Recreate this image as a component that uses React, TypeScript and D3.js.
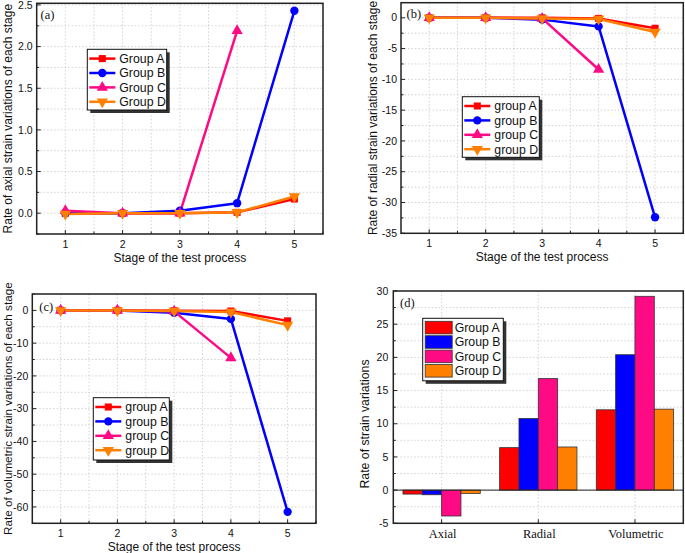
import React from 'react';
import * as d3 from 'd3';

// ---------- DATA ----------
const stages = [1, 2, 3, 4, 5];
const groupNamesUpper = ['Group A', 'Group B', 'Group C', 'Group D'];
const groupNamesLower = ['group A', 'group B', 'group C', 'group D'];
const seriesColors = ['#ff0000', '#0000ff', '#ff0a85', '#ff8000'];

// (a) axial strain variation rate per stage
const axialA = [0.0, 0.0, 0.0, 0.01, 0.17];
const axialB = [0.0, 0.0, 0.03, 0.12, 2.43];
const axialC = [0.03, 0.0, 0.0, 2.19];
const axialD = [-0.01, 0.0, 0.0, 0.01, 0.2];

// (b) radial strain variation rate per stage
const radialA = [0.0, 0.0, 0.0, -0.1, -1.7];
const radialB = [0.0, 0.0, -0.3, -1.4, -32.4];
const radialC = [0.0, 0.0, -0.1, -8.4];
const radialD = [0.0, 0.0, -0.1, -0.2, -2.3];

// (c) volumetric strain variation rate per stage
const volA = [0.0, 0.0, -0.1, -0.2, -3.2];
const volB = [0.0, 0.0, -0.7, -2.6, -61.5];
const volC = [0.0, 0.0, -0.3, -14.5];
const volD = [0.0, 0.0, -0.2, -0.5, -4.5];

// (d) rate of strain variations
const barCategories = ['Axial', 'Radial', 'Volumetric'];
const barA = [-0.6, 6.4, 12.1];
const barB = [-0.7, 10.8, 20.4];
const barC = [-3.9, 16.8, 29.2];
const barD = [-0.5, 6.5, 12.2];

const axialTicks = [0, 0.5, 1.0, 1.5, 2.0, 2.5];
const radialTicks = [0, -5, -10, -15, -20, -25, -30, -35];
const volTicks = [0, -10, -20, -30, -40, -50, -60];
const barTicks = [-5, 0, 5, 10, 15, 20, 25, 30];

// ---------- STYLE ----------
const SANS = '"Liberation Sans", Arial, sans-serif';
const SERIF = '"Liberation Serif", "Times New Roman", serif';
const GRID = '#c8c8c8';
const AXIS = '#222';

const fmt = (v: number, dec: number) => v.toFixed(dec);

const markerPath = (i: number) => {
  if (i === 0) return d3.symbol(d3.symbolSquare, 50)()!;
  if (i === 1) return d3.symbol(d3.symbolCircle, 55)()!;
  return d3.symbol(d3.symbolTriangle, 55)()!;
};

type Frame = { x0: number; x1: number; y0: number; y1: number };

function Legend({ x, y, w, h, names, kind }: { x: number; y: number; w: number; h: number; names: string[]; kind: 'line' | 'bar' }) {
  return (
    <g>
      <rect x={x + 3} y={y + 3} width={w} height={h} fill="#333" />
      <rect x={x} y={y} width={w} height={h} fill="#fff" stroke="#111" strokeWidth={1} />
      {names.map((n, i) => {
        const cy = y + 9.3 + i * 14.4;
        return (
          <g key={n}>
            {kind === 'line' ? (
              <g>
                <line x1={x + 2} x2={x + 28} y1={cy} y2={cy} stroke={seriesColors[i]} strokeWidth={2.5} />
                <path d={markerPath(i)} transform={`translate(${x + 15},${cy}) rotate(${i === 3 ? 180 : 0})`} fill={seriesColors[i]} />
              </g>
            ) : (
              <rect x={x + 2.5} y={cy - 6.3} width={27} height={12.6} fill={seriesColors[i]} stroke="#333" strokeWidth={0.8} />
            )}
            <text x={x + 32} y={cy + 4.3} fontFamily={SANS} fontSize={12.3} fill="#111">{n}</text>
          </g>
        );
      })}
    </g>
  );
}

function LinePanel({ frame, domain, ticks, dec, series, names, yLabel, yLabelSize, label, labelPos, legend, yLabelX }: any) {
  const f: Frame = frame;
  const x = d3.scaleLinear().domain([0.5, 5.5]).range([f.x0, f.x1]);
  const y = d3.scaleLinear().domain(domain).range([f.y1, f.y0]);
  const step = ticks[1] - ticks[0];
  const minor: number[] = [];
  const lo = Math.min(...ticks), hi = Math.max(...ticks);
  const st = Math.abs(step) / 2;
  for (let v = lo - st; v <= hi + st + 1e-9; v += st) {
    if (v >= domain[0] - 1e-9 && v <= domain[1] + 1e-9) minor.push(+v.toFixed(6));
  }
  const xMinor = d3.range(1, 5.51, 0.5);
  const line = d3.line<number>().x((_, i) => x(stages[i])).y((d) => y(d));
  const midY = (f.y0 + f.y1) / 2;
  return (
    <g>
      {xMinor.map((v) => (
        <line key={'gx' + v} x1={x(v)} x2={x(v)} y1={f.y0} y2={f.y1} stroke={GRID} strokeDasharray="1.5,2" strokeWidth={0.8} />
      ))}
      {minor.map((v) => (
        <line key={'gy' + v} x1={f.x0} x2={f.x1} y1={y(v)} y2={y(v)} stroke={GRID} strokeDasharray="1.5,2" strokeWidth={0.8} />
      ))}
      {minor.map((v) => {
        const isMajor = ticks.some((t: number) => Math.abs(t - v) < 1e-6);
        return <line key={'ty' + v} x1={f.x0} x2={f.x0 + (isMajor ? 4 : 2.5)} y1={y(v)} y2={y(v)} stroke={AXIS} strokeWidth={1} />;
      })}
      {xMinor.map((v) => {
        const isMajor = Number.isInteger(v);
        return <line key={'tx' + v} x1={x(v)} x2={x(v)} y1={f.y1} y2={f.y1 - (isMajor ? 4 : 2.5)} stroke={AXIS} strokeWidth={1} />;
      })}
      {ticks.map((t: number) => (
        <text key={'ly' + t} x={f.x0 - 4} y={y(t) + 3.7} textAnchor="end" fontFamily={SANS} fontSize={10.5} fill="#111">{fmt(t, dec)}</text>
      ))}
      {stages.map((s) => (
        <text key={'lx' + s} x={x(s)} y={f.y1 + 14} textAnchor="middle" fontFamily={SANS} fontSize={10.5} fill="#111">{s}</text>
      ))}
      {series.map((vals: number[], i: number) => (
        <path key={'s' + i} d={line(vals)!} fill="none" stroke={seriesColors[i]} strokeWidth={2.5} strokeLinejoin="round" />
      ))}
      {series.map((vals: number[], i: number) =>
        vals.map((v: number, j: number) => (
          <path key={'m' + i + '_' + j} d={markerPath(i)} transform={`translate(${x(stages[j])},${y(v)}) rotate(${i === 3 ? 180 : 0})`} fill={seriesColors[i]} />
        ))
      )}
      <rect x={f.x0} y={f.y0} width={f.x1 - f.x0} height={f.y1 - f.y0} fill="none" stroke={AXIS} strokeWidth={1.5} />
      <text x={labelPos[0]} y={labelPos[1]} fontFamily={SERIF} fontSize={12.5} fill="#111">{label}</text>
      <Legend {...legend} names={names} kind="line" />
      <text transform={`translate(${yLabelX},${midY}) rotate(-90)`} textAnchor="middle" fontFamily={SANS} fontSize={yLabelSize} fill="#111">{yLabel}</text>
      <text x={(f.x0 + f.x1) / 2} y={f.y1 + 28} textAnchor="middle" fontFamily={SANS} fontSize={12} fill="#111">Stage of the test process</text>
    </g>
  );
}

function BarPanel() {
  const f: Frame = { x0: 393.3, x1: 683.3, y0: 291, y1: 523.3 };
  const x = d3.scaleBand<string>().domain(barCategories).range([f.x0, f.x1]).paddingInner(0.2).paddingOuter(0.1);
  const xc = d3.scaleBand<string>().domain(barCategories).range([f.x0, f.x1]);
  const sub = d3.scaleBand<number>().domain([0, 1, 2, 3]).range([0, x.bandwidth()]);
  const y = d3.scaleLinear().domain([-5, 30]).range([f.y1, f.y0]);
  const series = [barA, barB, barC, barD];
  const minor = d3.range(-5, 30.01, 2.5);
  return (
    <g>
      {barCategories.map((c) => (
        <line key={'gx' + c} x1={xc(c)! + xc.bandwidth() / 2} x2={xc(c)! + xc.bandwidth() / 2} y1={f.y0} y2={f.y1} stroke={GRID} strokeDasharray="1.5,2" strokeWidth={0.8} />
      ))}
      {minor.map((v) => (
        <line key={'gy' + v} x1={f.x0} x2={f.x1} y1={y(v)} y2={y(v)} stroke={GRID} strokeDasharray="1.5,2" strokeWidth={0.8} />
      ))}
      {minor.map((v) => (
        <line key={'ty' + v} x1={f.x0} x2={f.x0 + (v % 5 === 0 ? 4 : 2.5)} y1={y(v)} y2={y(v)} stroke={AXIS} strokeWidth={1} />
      ))}
      {barCategories.map((c) => (
        <line key={'tx' + c} x1={xc(c)! + xc.bandwidth() / 2} x2={xc(c)! + xc.bandwidth() / 2} y1={f.y1} y2={f.y1 - 4} stroke={AXIS} strokeWidth={1} />
      ))}
      {series.map((vals, i) =>
        vals.map((v, j) => (
          <rect key={'b' + i + '_' + j} x={x(barCategories[j])! + sub(i)!} width={sub.bandwidth()} y={y(Math.max(0, v))} height={Math.abs(y(v) - y(0))} fill={seriesColors[i]} stroke="#333" strokeWidth={0.8} />
        ))
      )}
      <line x1={f.x0} x2={f.x1} y1={y(0)} y2={y(0)} stroke={AXIS} strokeWidth={1} />
      <rect x={f.x0} y={f.y0} width={f.x1 - f.x0} height={f.y1 - f.y0} fill="none" stroke={AXIS} strokeWidth={1.5} />
      {barTicks.map((t) => (
        <text key={'ly' + t} x={f.x0 - 5} y={y(t) + 3.7} textAnchor="end" fontFamily={SANS} fontSize={10.5} fill="#111">{String(t)}</text>
      ))}
      {barCategories.map((c) => (
        <text key={'lx' + c} x={xc(c)! + xc.bandwidth() / 2 + 1} y={f.y1 + 14.5} textAnchor="middle" fontFamily={SERIF} fontSize={12.5} fill="#111">{c}</text>
      ))}
      <text x={400} y={306.5} fontFamily={SERIF} fontSize={12.5} fill="#111">(d)</text>
      <Legend x={422.7} y={318.3} w={80.6} h={62.5} names={groupNamesUpper} kind="bar" />
      <text transform={`translate(369,424) rotate(-90)`} textAnchor="middle" fontFamily={SANS} fontSize={12.3} fill="#111">Rate of strain variations</text>
    </g>
  );
}

export default function App() {
  return (
    <svg width={685} height={553} style={{ display: 'block', position: 'absolute', left: 0, top: 0, background: '#fff' }}>
      <rect width={685} height={553} fill="#fff" />
      <LinePanel
        frame={{ x0: 36.7, x1: 323, y0: 3.3, y1: 234 }}
        domain={[-0.25, 2.52]}
        ticks={axialTicks}
        dec={1}
        series={[axialA, axialB, axialC, axialD]}
        names={groupNamesUpper}
        yLabel="Rate of axial strain variations of each stage"
        yLabelSize={12}
        yLabelX={12}
        label="(a)"
        labelPos={[40.5, 18.5]}
        legend={{ x: 87.3, y: 49.3, w: 79.4, h: 60.7 }}
      />
      <LinePanel
        frame={{ x0: 401, x1: 683.3, y0: 2.7, y1: 233.3 }}
        domain={[-35, 2.45]}
        ticks={radialTicks}
        dec={0}
        series={[radialA, radialB, radialC, radialD]}
        names={groupNamesLower}
        yLabel="Rate of radial strain variations of each stage"
        yLabelSize={12}
        yLabelX={377}
        label="(b)"
        labelPos={[406.5, 18]}
        legend={{ x: 462.3, y: 96.7, w: 77, h: 60.6 }}
      />
      <LinePanel
        frame={{ x0: 32.3, x1: 316, y0: 294, y1: 523.3 }}
        domain={[-65, 5]}
        ticks={volTicks}
        dec={0}
        series={[volA, volB, volC, volD]}
        names={groupNamesLower}
        yLabel="Rate of volumetric strain variations of each stage"
        yLabelSize={11.7}
        yLabelX={11.5}
        label="(c)"
        labelPos={[39.3, 310.5]}
        legend={{ x: 93.3, y: 397.7, w: 76, h: 62.3 }}
      />
      <BarPanel />
    </svg>
  );
}
